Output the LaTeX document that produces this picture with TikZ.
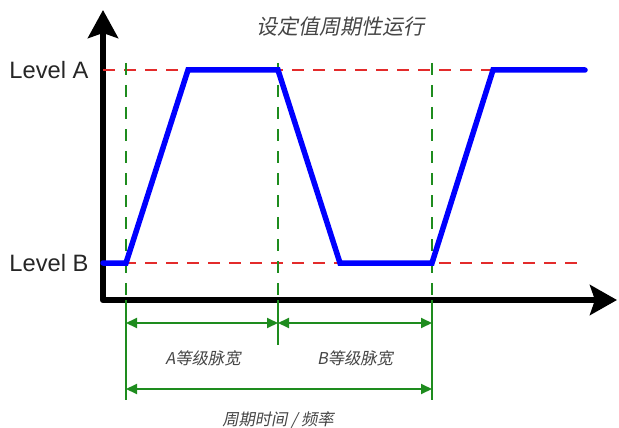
\documentclass[tikz,border=0pt]{standalone}
\usepackage{fontspec}
\setmainfont{Liberation Sans}
\newfontfamily\cjk[FakeSlant=0.2]{Noto Sans CJK SC}
\usetikzlibrary{arrows.meta, positioning}
\definecolor{wavblue}{HTML}{0000FF}
\definecolor{lvlred}{HTML}{E32B2B}
\definecolor{guidegreen}{HTML}{1E8C1E}
\definecolor{txtgrey}{HTML}{454545}

\begin{document}
\begin{tikzpicture}[
			x=1pt, y=-1pt,
			axis/.style={line width=6.5pt, line join=round, black},
			lvl/.style={draw=lvlred, line width=2pt, dash pattern=on 12pt off 9pt},
			guide/.style={draw=guidegreen, line width=2pt, dash pattern=on 12pt off 10pt},
			tick/.style={draw=guidegreen, line width=2pt},
			dim/.style={draw=guidegreen, line width=2pt, {Triangle[length=11pt,width=10pt]}-{Triangle[length=11pt,width=10pt]}},
			wave/.style={draw=wavblue, line width=5.5pt, line cap=round, line join=miter},
			lvlab/.style={anchor=east, font=\fontsize{23.7}{28}\selectfont, text=black!85},
			cjklab/.style={font=\cjk\fontsize{16.3}{19}\selectfont, text=txtgrey}
			]
			\useasboundingbox (0,0) rectangle (619,428);

			% axes
			\coordinate (o) at (103,300);
			\coordinate (ytip) at (103,10);
			\coordinate (xtip) at (617,300);
			\draw[axis, {Stealth[length=28pt,width=30pt,inset=5pt]}-{Stealth[length=27pt,width=30pt,inset=5pt]}] (ytip) |- (xtip);

			% levels
			\coordinate (la0) at (103,70);  \coordinate (la1) at (585,70);
			\coordinate (lb0) at (103,263); \coordinate (lb1) at (585,263);
			\draw[lvl] (la0) -- (la1);
			\draw[lvl] (lb0) -- (lb1);
			\node[lvlab] (levA) at (92,70) {Level A};
			\node[lvlab] (levB) at (92,263) {Level B};

			% guide lines
			\foreach \n/\x/\e in {ga/126/400, gm/278/345, gb/432/400} {
				\coordinate (\n-top) at (\x,63);
				\coordinate (\n-ax) at (\x,300);
				\coordinate (\n-end) at (\x,\e);
				\draw[guide] (\n-top) -- (\n-ax);
				\draw[tick] (\n-ax) -- (\n-end);
			}

			% waveform
			\coordinate (w0) at (103,263);
			\coordinate (w1) at (126,263);
			\coordinate (w2) at (188,70);
			\coordinate (w3) at (278,70);
			\coordinate (w4) at (340,263);
			\coordinate (w5) at (432,263);
			\coordinate (w6) at (493,70);
			\coordinate (w7) at (585,70);
			\draw[wave] (w0) -- (w1) -- (w2) -- (w3) -- (w4) -- (w5) -- (w6) -- (w7);

			% widths
			\coordinate (da0) at (126,323); \coordinate (dm0) at (278,323); \coordinate (db0) at (432,323);
			\coordinate (pa) at (126,389);  \coordinate (pb) at (432,389);
			\foreach \a/\b in {da0/dm0, dm0/db0, pa/pb} {
				\draw[dim] (\a) -- (\b);
			}

			\node[font=\cjk\fontsize{21}{25}\selectfont, text=txtgrey] (title) at (340,27) {设定值周期性运行};
			\node[cjklab] (widA) at (203,358) {A等级脉宽};
			\node[cjklab] (widB) at (355,358) {B等级脉宽};
			\node[cjklab] (period) at (278,420) {周期时间 / 频率};

		\end{tikzpicture}
\end{document}
